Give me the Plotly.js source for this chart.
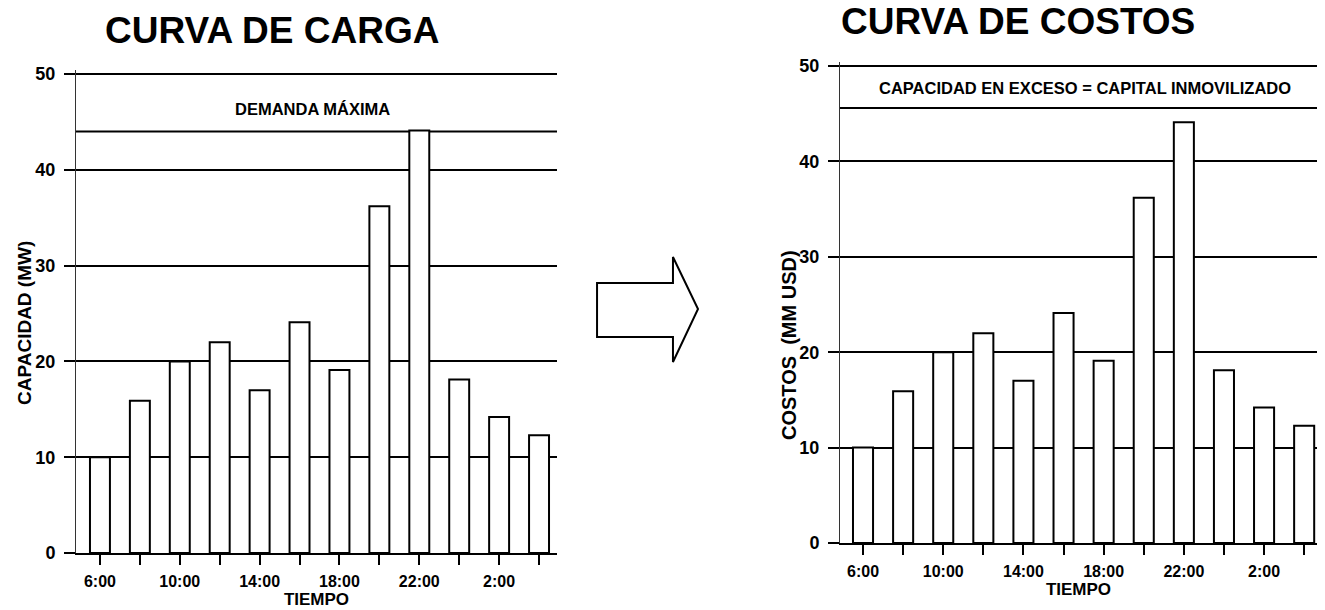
<!DOCTYPE html>
<html>
<head>
<meta charset="utf-8">
<script src="https://cdn.plot.ly/plotly-3.0.1.min.js"></script>
<style>html,body{margin:0;padding:0;background:#fff;}#chart{width:1325px;height:610px;}</style>
</head>
<body>
<div id="chart"></div>
<script>
// ---- data ----
const hours = ['6:00','8:00','10:00','12:00','14:00','16:00','18:00','20:00','22:00','0:00','2:00','4:00'];
const tickLabels = ['6:00','','10:00','','14:00','','18:00','','22:00','','2:00',''];
const cargaMW = [10, 15.9, 20, 22, 17, 24.1, 19.1, 36.2, 44.1, 18.1, 14.2, 12.3];
const costosMMUSD = [10, 15.9, 20, 22, 17, 24.1, 19.1, 36.2, 44.1, 18.1, 14.2, 12.3];
const yTicks = [0, 10, 20, 30, 40, 50];
const demandaMaxima = 44;
const capacidadExceso = 45.6;

// ---- helpers (page pixels -> paper) ----
const W = 1325, H = 610;
const px = x => x / W;
const py = y => 1 - y / H;
const FONT = 'Liberation Sans, Arial, sans-serif';
const bold = s => s ? '<b>' + s + '</b>' : '';

const barStyle = {color: '#ffffff', line: {color: '#000000', width: 2}};

const traces = [
  {type: 'bar', x: hours, y: cargaMW, xaxis: 'x', yaxis: 'y', width: 0.5, marker: barStyle, hoverinfo: 'x+y'},
  {type: 'bar', x: hours, y: costosMMUSD, xaxis: 'x2', yaxis: 'y2', width: 0.5, marker: barStyle, hoverinfo: 'x+y'}
];

function xAxis(domain, range) {
  return {
    domain: domain, range: range, type: 'category',
    tickmode: 'array', tickvals: hours, ticktext: tickLabels.map(bold),
    ticks: 'outside', ticklen: 10, tickwidth: 2, tickcolor: '#000',
    ticklabelstandoff: 3,
    showline: true, linecolor: '#000', linewidth: 2,
    showgrid: false, zeroline: false, fixedrange: true,
    tickfont: {family: FONT, size: 16, color: '#000'},
    title: {text: '<b>TIEMPO</b>', font: {family: FONT, size: 17, color: '#000'}, standoff: 2}
  };
}
function yAxis(domain, anchor) {
  return {
    domain: domain, anchor: anchor, range: [0, 50.4],
    tickmode: 'array', tickvals: yTicks, ticktext: yTicks.map(v => bold(String(v))),
    ticks: 'outside', ticklen: 11, tickwidth: 2, tickcolor: '#000',
    ticklabelstandoff: 5,
    showline: true, linecolor: '#333', linewidth: 1,
    showgrid: true, gridcolor: '#000', gridwidth: 2,
    zeroline: false, fixedrange: true,
    tickfont: {family: FONT, size: 18, color: '#000'}
  };
}

const arrowPts = [[597,283],[673,283],[673,257],[698,309],[673,362],[673,337],[597,337]];
const arrowPath = arrowPts.map((p, i) => (i ? 'L' : 'M') + px(p[0]).toFixed(4) + ',' + py(p[1]).toFixed(4)).join(' ') + ' Z';

const txt = (text, x, y, size, extra) => Object.assign({
  text: '<b>' + text + '</b>', xref: 'paper', yref: 'paper', x: px(x), y: py(y),
  xanchor: 'center', yanchor: 'middle', showarrow: false,
  font: {family: FONT, size: size, color: '#000'}
}, extra || {});

const layout = {
  width: W, height: H,
  margin: {l: 0, r: 0, t: 0, b: 0},
  paper_bgcolor: '#fff', plot_bgcolor: '#fff',
  showlegend: false,
  xaxis: xAxis([px(76), px(557)], [-0.6, 11.45]),
  yaxis: yAxis([py(553), py(70.2)], 'x'),
  xaxis2: Object.assign(xAxis([px(840), px(1317)], [-0.574, 11.32]), {anchor: 'y2'}),
  yaxis2: yAxis([py(543), py(62.2)], 'x2'),
  shapes: [
    {type: 'line', xref: 'x domain', yref: 'y', x0: 0, x1: 1, y0: demandaMaxima, y1: demandaMaxima,
     line: {color: '#000', width: 2}, layer: 'below'},
    {type: 'line', xref: 'x2 domain', yref: 'y2', x0: 0, x1: 1, y0: capacidadExceso, y1: capacidadExceso,
     line: {color: '#000', width: 2}, layer: 'below'},
    {type: 'path', xref: 'paper', yref: 'paper', path: arrowPath, line: {color: '#000', width: 2}, fillcolor: 'rgba(0,0,0,0)'}
  ],
  annotations: [
    txt('CURVA DE CARGA', 272, 30, 37),
    txt('CURVA DE COSTOS', 1018, 22, 37),
    txt('CAPACIDAD (MW)', 24, 323, 19, {textangle: -90}),
    txt('COSTOS  (MM USD)', 789, 345, 20, {textangle: -90}),
    Object.assign(txt('DEMANDA MÁXIMA', 312, 0, 16.5), {yref: 'y', y: 46.4}),
    Object.assign(txt('CAPACIDAD EN EXCESO = CAPITAL INMOVILIZADO', 1085, 0, 16.5), {yref: 'y2', y: 47.7})
  ]
};

Plotly.newPlot('chart', traces, layout, {displayModeBar: false, staticPlot: true});
</script>
</body>
</html>
